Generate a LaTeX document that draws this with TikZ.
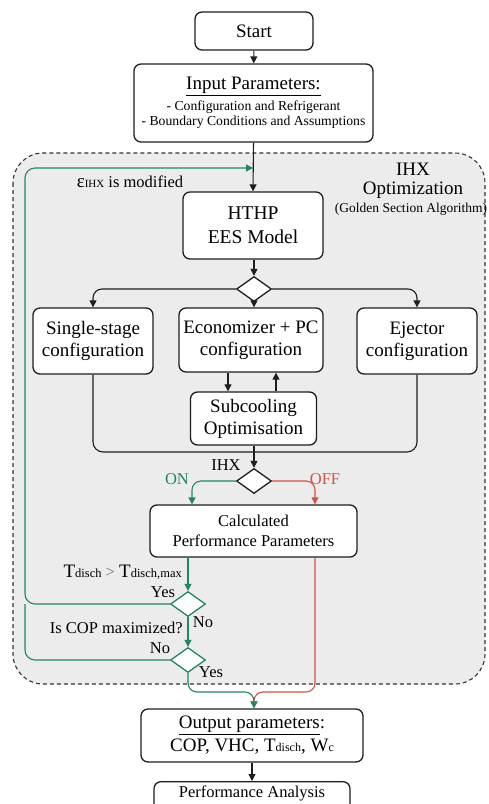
\documentclass[tikz,border=0pt]{standalone}
\usepackage{fontspec}
\setmainfont{Liberation Serif}
\usetikzlibrary{shapes.geometric,arrows.meta,calc}
\definecolor{grn}{RGB}{34,134,94}
\definecolor{rd}{RGB}{205,85,72}
\definecolor{regionfill}{RGB}{236,236,236}
\definecolor{lineblk}{RGB}{30,30,30}
\begin{document}
\begin{tikzpicture}[x=1pt,y=-1pt,
  box/.style={draw=lineblk, line width=1.3pt, fill=white, rounded corners=7pt, align=center, inner sep=0pt, font=\fontsize{19}{22}\selectfont},
  dia/.style={diamond, draw=lineblk, fill=white, line width=1.3pt, minimum width=35pt, minimum height=25pt, inner sep=0pt},
  gdia/.style={dia, draw=grn},
  arr/.style={-{Triangle[length=7pt,width=7pt]}, line width=1.1pt, draw=lineblk},
  garr/.style={arr, draw=grn, color=grn},
  rarr/.style={arr, draw=rd, color=rd},
  lbl/.style={anchor=base, inner sep=0pt, font=\fontsize{16.5}{18}\selectfont},
]
\useasboundingbox (0,0) rectangle (488,804);

% optimisation region
\draw[dash pattern=on 4pt off 3pt, draw=black!80, line width=1.1pt, fill=regionfill, rounded corners=30pt] (13,153) rectangle (485,684);

% boxes
\node[box, minimum width=118pt, minimum height=38pt] (start) at (254,31) {Start};
\node[box, minimum width=239pt, minimum height=78pt, font=\fontsize{19}{15}\selectfont] (input) at (253.5,103)
  {\underline{Input Parameters:}\\[4pt]\fontsize{13.7}{15}\selectfont - Configuration and Refrigerant\\\fontsize{13.7}{15}\selectfont - Boundary Conditions and Assumptions};
\node[box, minimum width=140pt, minimum height=67pt, font=\fontsize{19.5}{24}\selectfont] (hthp) at (253,225.5) {HTHP\\EES Model};
\node[dia] (d1) at (254,289) {};
\node[box, minimum width=120pt, minimum height=66pt] (single) at (93,341) {Single-stage\\configuration};
\node[box, minimum width=144pt, minimum height=64pt] (econ) at (251,340) {Economizer + PC\\configuration};
\node[box, minimum width=120pt, minimum height=66pt] (eject) at (417,341) {Ejector\\configuration};
\node[box, minimum width=126pt, minimum height=53pt] (sub) at (253.5,418.5) {Subcooling\\Optimisation};
\node[dia] (d2) at (254,481) {};
\node[box, minimum width=207pt, minimum height=52pt, font=\fontsize{16.5}{20}\selectfont] (calc) at (253.5,531) {Calculated\\Performance Parameters};
\node[gdia] (d3) at (188,604) {};
\node[gdia] (d4) at (188,660) {};
\node[box, minimum width=222pt, minimum height=53pt, font=\fontsize{19}{23}\selectfont] (out) at (252,735.5)
  {\underline{Output parameters}:\\COP, VHC, T{\fontsize{12}{12}\selectfont disch}, W{\fontsize{12}{12}\selectfont c}};
\node[box, anchor=north, minimum width=196pt, inner ysep=3pt, text height=13pt, text depth=20pt, font=\fontsize{16.5}{20}\selectfont] (perf) at (252,781) {Performance Analysis};

% helper coordinates
\coordinate (xon) at (192,0);
\coordinate (xoff) at (315,0);
\coordinate (xa) at (228,0);
\coordinate (xb) at (276,0);
\coordinate (j1) at (254,452);
\coordinate (lc) at (25,168);
\coordinate (j2) at (254,692);

% black connectors
\draw[arr] (start) -- (input);
\draw[arr] (input.south) -- (hthp.north);
\draw[arr] (hthp.south -| d1.north) -- (d1.north);
\draw[arr, rounded corners=9pt] (d1.west) -| (single.north);
\draw[arr, rounded corners=9pt] (d1.east) -| (eject.north);
\draw[arr] (d1.south) -- (d1.south |- econ.north);
\draw[arr] (xa |- econ.south) -- (xa |- sub.north);
\draw[arr] (xb |- sub.north) -- (xb |- econ.south);
\draw[line width=1.1pt, draw=lineblk, rounded corners=10pt] (single.south) |- (j1) -| (eject.south);
\draw[arr] (sub.south -| d2.north) -- (d2.north);
\draw[arr] (out.south -| perf.north) -- (perf.north);

% IHX on / off
\draw[garr, rounded corners=9pt] (d2.west) -| (xon |- calc.north);
\draw[rarr, rounded corners=9pt] (d2.east) -| (xoff |- calc.north);
\draw[garr] (d3.north |- calc.south) -- (d3.north);
\draw[garr] (d3.south) -- (d4.north);
\draw[garr, rounded corners=10pt] (d3.west) -| (lc) -- (lc -| hthp.north);
\draw[line width=1.1pt, draw=grn, rounded corners=10pt] (d4.west) -| (lc |- d3.west);
\draw[rarr, rounded corners=9pt] (xoff |- calc.south) |- (j2) -- (out.north -| j2);
\draw[garr, rounded corners=9pt] (d4.south) |- (j2) -- (out.north -| j2);

% labels
\node[lbl] (eps) at (130,187) {{\fontsize{19}{19}\selectfont ε}{\fontsize{11}{11}\selectfont IHX} is modified};
\node[inner sep=0pt, anchor=center, align=center, font=\fontsize{19}{18.5}\selectfont] (opt) at (413,181) {IHX\\Optimization};
\node[lbl, font=\fontsize{13.5}{15}\selectfont] (opt3) at (411,212) {(Golden Section Algorithm)};
\node[lbl] (ihx) at (226,470) {IHX};
\node[lbl, text=grn] (on) at (177,484) {ON};
\node[lbl, text=rd] (off) at (325,484) {OFF};
\node[lbl, anchor=base east] (tdisch) at (182,577) {{\fontsize{19}{19}\selectfont T}{\fontsize{12.5}{13}\selectfont disch} {\color{black!55}>} {\fontsize{19}{19}\selectfont T}{\fontsize{12.5}{13}\selectfont disch,max}};
\node[lbl] (yes1) at (163,597) {Yes};
\node[lbl] (no1) at (203,627) {No};
\node[lbl, anchor=base east] (cop) at (183,633) {Is COP maximized?};
\node[lbl] (no2) at (160,653) {No};
\node[lbl] (yes2) at (211,677) {Yes};
\end{tikzpicture}
\end{document}
